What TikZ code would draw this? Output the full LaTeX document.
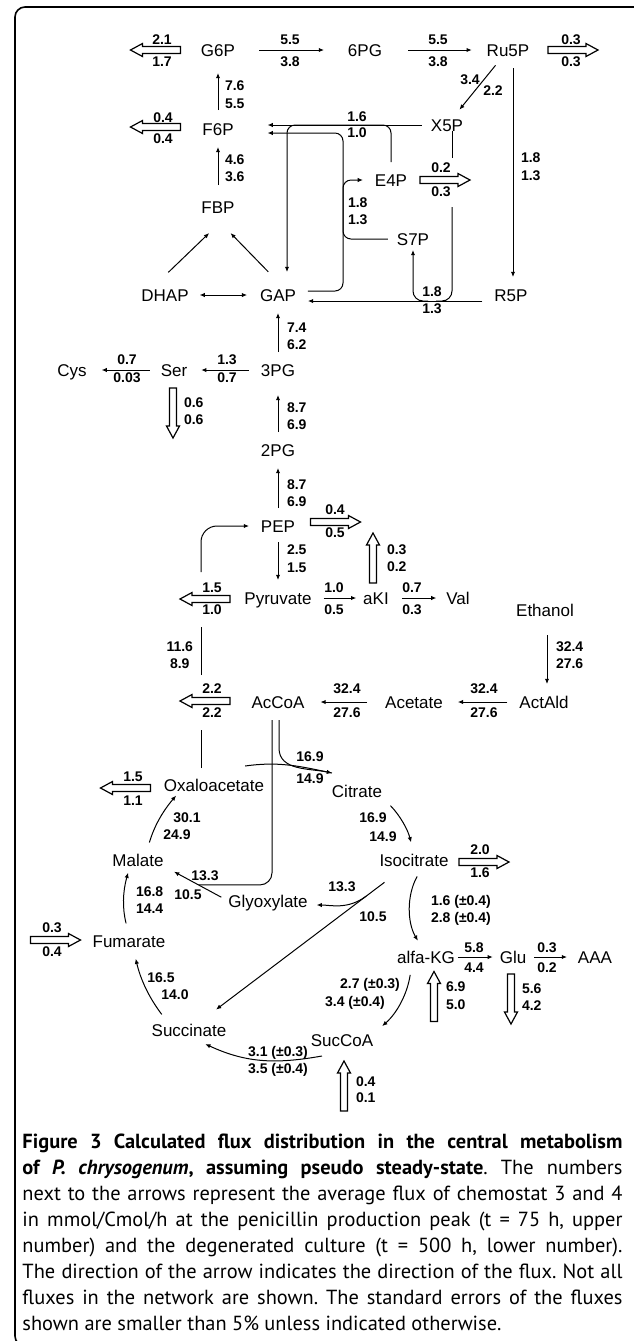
\documentclass[tikz,border=0pt]{standalone}
\usepackage{fontspec}
\setmainfont{Liberation Sans}
\newfontfamily\capfont{PT Sans}
\usetikzlibrary{arrows.meta}
\tikzstyle{met}=[inner sep=0, outer sep=0, text height=6pt, text depth=0pt, font=\fontsize{8.5pt}{10pt}\selectfont]
\tikzstyle{num}=[inner sep=0, outer sep=0, align=center, font=\bfseries\fontsize{7pt}{11pt}\selectfont]
\tikzstyle{flux}=[-{Latex[length=2.6pt,width=2.2pt]}, shorten <=6pt, shorten >=6pt]
\tikzstyle{bothflux}=[{Latex[length=2.6pt,width=2.2pt]}-{Latex[length=2.6pt,width=2.2pt]}, shorten <=6pt, shorten >=6pt]
\tikzstyle{link}=[shorten <=6pt]
\tikzset{
  vgap/.style={font=\bfseries\fontsize{7pt}{#1}\selectfont},
  numr/.style={num, anchor=west, align=left, vgap=#1},
  outflow/.pic={\draw[fill=white, line width=0.6pt] (-25,-3.5) -- (13,-3.5) -- (13,-6.5) -- (25,0) -- (13,6.5) -- (13,3.5) -- (-25,3.5) -- cycle;}
}

\begin{document}
\begin{tikzpicture}[x=0.5pt, y=-0.5pt, line width=0.5pt]
    \useasboundingbox (0,0) rectangle (633,1341);
    \draw[line width=0.8pt, rounded corners=5pt] (15,7) rectangle (650,1346);

    % metabolites
    \node[met] (G6P) at (218,50) {G6P};
    \node[met] (pg6) at (365,50) {6PG};
    \node[met] (Ru5P) at (508,50) {Ru5P};
    \node[met] (F6P) at (218,129) {F6P};
    \node[met] (X5P) at (447,125) {X5P};
    \node[met] (E4P) at (391,180) {E4P};
    \node[met] (FBP) at (218,207) {FBP};
    \node[met] (S7P) at (413,239) {S7P};
    \node[met] (DHAP) at (165,295) {DHAP};
    \node[met] (GAP) at (278,295) {GAP};
    \node[met] (R5P) at (511,295) {R5P};
    \node[met] (pg3) at (278,370) {3PG};
    \node[met] (Ser) at (174,370) {Ser};
    \node[met] (Cys) at (72,370) {Cys};
    \node[met] (pg2) at (278,450) {2PG};
    \node[met] (PEP) at (278,526) {PEP};
    \node[met] (Pyruvate) at (278,598) {Pyruvate};
    \node[met] (aKI) at (376,598) {aKI};
    \node[met] (Val) at (458,598) {Val};
    \node[met] (Ethanol) at (545,610) {Ethanol};
    \node[met] (AcCoA) at (278,702) {AcCoA};
    \node[met] (Acetate) at (414,702) {Acetate};
    \node[met] (ActAld) at (544,702) {ActAld};
    \node[met] (Oxaloacetate) at (214,785) {Oxaloacetate};
    \node[met] (Citrate) at (357,791) {Citrate};
    \node[met] (Malate) at (138,860) {Malate};
    \node[met] (Isocitrate) at (414,860) {Isocitrate};
    \node[met] (Glyoxylate) at (268,901) {Glyoxylate};
    \node[met] (Fumarate) at (129,941) {Fumarate};
    \node[met] (alfaKG) at (426,957) {alfa-KG};
    \node[met] (Glu) at (513,957) {Glu};
    \node[met] (AAA) at (595,957) {AAA};
    \node[met] (Succinate) at (189,1030) {Succinate};
    \node[met] (SucCoA) at (342,1040) {SucCoA};

    % exchange arrows
    \pic[rotate=180] (outG6P) at (155.5,50) {outflow};
    \pic[rotate=180] (outF6P) at (155.5,127) {outflow};
    \pic (outRu5P) at (573,50) {outflow};
    \pic (outE4P) at (445,180) {outflow};
    \pic[rotate=-90] (outSer) at (173,413) {outflow};
    \pic (outPEP) at (335.5,522) {outflow};
    \pic[rotate=90] (outaKI) at (373,558) {outflow};
    \pic[rotate=180] (outPyr) at (205,599) {outflow};
    \pic[rotate=180] (outAcCoA) at (205,701) {outflow};
    \pic[rotate=180] (outOAA) at (125.5,788) {outflow};
    \pic (outIcit) at (484,862) {outflow};
    \pic (inFum) at (55.5,940) {outflow};
    \pic[rotate=90] (inaKG) at (434,996.5) {outflow};
    \pic[rotate=-90] (outGlu) at (511,999) {outflow};
    \pic[rotate=90] (inSucCoA) at (344,1086) {outflow};

    % helper points
    \coordinate (tkA) at (287,125);
    \coordinate (tkB) at (343,133);
    \coordinate (tkC) at (343,180);
    \coordinate (x5pA) at (452,158);
    \coordinate (x5pB) at (452,207);
    \coordinate (r5pjoin) at (436,301);
    \coordinate (s7pjoin) at (428,301);
    \coordinate (pepA) at (201,730);
    \coordinate (pepB) at (201,675);
    \coordinate (pepC) at (201,627);
    \coordinate (pepD) at (201,572);

    % pentose phosphate part
    \draw[flux, shorten <=12pt, shorten >=12pt] (G6P) -- (pg6);
    \draw[flux, shorten <=13pt, shorten >=7.5pt] (pg6) -- (Ru5P);
    \draw[flux] (Ru5P) -- (X5P);
    \draw[flux] ([xshift=2.5pt]Ru5P.south) -- ([xshift=1pt]R5P.north);
    \draw[flux, shorten <=6.5pt, shorten >=8.5pt] (F6P) -- (G6P);
    \draw[flux, shorten <=8pt] (FBP) -- (F6P);
    \draw[flux, shorten <=4.5pt, shorten >=17pt] (X5P.west) -- (X5P.west -| F6P.east);
    \draw[flux, rounded corners=4pt, shorten >=8.5pt] (E4P.north) |- (tkA) -- (tkA |- GAP.north);
    \draw[flux, rounded corners=4pt, shorten >=17pt] ([yshift=2pt]GAP.east) -| (tkB) -- (tkB -| F6P.east);
    \draw[flux, rounded corners=4pt, shorten <=4.5pt] (S7P.west) -| (tkC) -- (E4P.west);
    \draw ([xshift=2.5pt]X5P.south) -- (x5pA);
    \draw[rounded corners=5pt] (x5pB) |- (r5pjoin);
    \draw[flux, rounded corners=5pt, shorten <=0pt, shorten >=2.5pt] (s7pjoin) -| (S7P.south);
    \draw[flux] ([yshift=-3pt]R5P.west) -- ([yshift=-3pt]GAP.east);

    % glycolysis
    \draw[flux, shorten <=12pt, shorten >=14.5pt] ([xshift=-7pt]DHAP.north) -- ([xshift=6pt]FBP.south);
    \draw[flux, shorten <=12pt, shorten >=14pt] ([xshift=3.5pt]GAP.north) -- ([xshift=-3.5pt]FBP.south);
    \draw[bothflux, shorten <=5.5pt, shorten >=6.5pt] (DHAP) -- (GAP);
    \draw[flux] (pg3) -- (GAP);
    \draw[flux, shorten >=7pt] (pg3) -- (Ser);
    \draw[flux, shorten <=5.5pt, shorten >=7.5pt] (Ser) -- (Cys);
    \draw[flux, shorten >=9.5pt] (pg2) -- (pg3);
    \draw[flux] (PEP) -- (pg2);
    \draw[flux, shorten <=5pt] (PEP) -- (Pyruvate);
    \draw[flux, shorten >=3.5pt] (Pyruvate) -- (aKI);
    \draw[flux, shorten <=6.5pt, shorten >=5pt] (aKI) -- (Val);
    \draw[link, shorten <=5.5pt] ([xshift=-6.5pt]Oxaloacetate.north) -- (pepA);
    \draw (pepB) -- (pepC);
    \draw[flux, rounded corners=8pt, shorten <=0pt] (pepD) |- (PEP.west);

    % acetyl-CoA and TCA cycle
    \draw[flux, shorten <=9.5pt] ([xshift=1pt]Ethanol.south) -- ([xshift=1.5pt]ActAld.north);
    \draw[flux, shorten >=7.5pt] (ActAld) -- (Acetate);
    \draw[flux, shorten <=9pt, shorten >=8pt] (Acetate) -- (AcCoA);
    \draw[flux, shorten >=0pt] ([xshift=0.5pt]AcCoA.south) -- ++(0,40) to[out=-90, in=168] ([yshift=6pt]Citrate.north west);
    \draw ([shift={(-9.5pt,6.5pt)}]Oxaloacetate.north east) to[out=8, in=168] ([yshift=6pt]Citrate.north west);
    \draw[flux, bend left=15] (Citrate.south east) to (Isocitrate.north);
    \draw[flux, shorten <=13.5pt, shorten >=12pt] (Isocitrate) -- coordinate[pos=0.19] (icitbr) (Succinate);
    \draw[flux, shorten <=0pt, shorten >=4.5pt] (icitbr) to[out=217, in=0] ([yshift=-2pt]Glyoxylate.east);
    \draw[flux, shorten <=4pt] (Glyoxylate.west) -- coordinate[pos=0.46] (glxjoin) (Malate.south east);
    \draw[link, rounded corners=6pt] ([xshift=-3pt]AcCoA.south) |- (glxjoin);
    \draw[flux, bend left=12, shorten >=3pt] ([xshift=4pt]Malate.north) to ([xshift=-17pt]Oxaloacetate.south);
    \draw[flux, bend left=15, shorten >=3.5pt] (Fumarate.north) to ([xshift=-4pt]Malate.south);
    \draw[flux, bend left=12] ([xshift=-10pt]Succinate.north) to ([xshift=2pt]Fumarate.south);
    \draw[flux, bend right=30] ([xshift=4.5pt]Isocitrate.south) to ([xshift=-1pt]alfaKG.north);
    \draw[flux, shorten <=1.5pt, shorten >=3.5pt] (alfaKG) -- (Glu);
    \draw[flux, shorten <=4pt, shorten >=5.5pt] (Glu) -- (AAA);
    \draw[flux, bend left=20] ([xshift=-7pt]alfaKG.south) to (SucCoA.north east);
    \draw[flux, shorten <=0pt, shorten >=0pt] ([shift={(-10pt,-5pt)}]SucCoA.south) to[out=190, in=-25] ([shift={(-10.5pt,-4pt)}]Succinate.south east);

    % flux values
    \node[num] (lG6Pout) at (162,51) {2.1\\1.7};
    \node[num] (lG6P6PG) at (290,51) {5.5\\3.8};
    \node[num] (l6PGRu5P) at (438,51) {5.5\\3.8};
    \node[num] (lRu5Pout) at (571,51) {0.3\\0.3};
    \node[num, vgap=10.5pt] (lF6Pout) at (163,128) {0.4\\0.4};
    \node[num, vgap=8pt] (lX5PF6P) at (357,125) {1.6\\1.0};
    \node[num, vgap=12pt] (lE4Pout) at (441,180) {0.2\\0.3};
    \node[num, vgap=8.5pt] (lR5PGAP) at (432,300.5) {1.8\\1.3};
    \node[num, vgap=9pt] (l3PGSer) at (227,369) {1.3\\0.7};
    \node[num, vgap=9pt] (lSerCys) at (127,369) {0.7\\0.03};
    \node[num, vgap=11.5pt] (lPEPout) at (335,521.5) {0.4\\0.5};
    \node[num] (lPyrout) at (212,599) {1.5\\1.0};
    \node[num] (lPyraKI) at (334,599) {1.0\\0.5};
    \node[num] (laKIVal) at (412,599) {0.7\\0.3};
    \node[num, vgap=12pt] (lAcCoAout) at (212,701) {2.2\\2.2};
    \node[num, vgap=12pt] (lAceAcCoA) at (347,701) {32.4\\27.6};
    \node[num, vgap=12pt] (lActAce) at (484,701) {32.4\\27.6};
    \node[num] (lCit) at (310,768) {16.9\\14.9};
    \node[num, vgap=12pt] (lOAAout) at (133,789) {1.5\\1.1};
    \node[num, vgap=11.5pt] (lIcitout) at (480,861.5) {2.0\\1.6};
    \node[num, vgap=12pt] (lFumin) at (52,940) {0.3\\0.4};
    \node[num, vgap=10pt] (laKGGlu) at (474,958) {5.8\\4.4};
    \node[num, vgap=10pt] (lGluAAA) at (547,958) {0.3\\0.2};
    \node[num, vgap=8.5pt] (lSucSuc) at (278,1061.5) {3.1 (±0.3)\\3.5 (±0.4)};

    \node[numr=9pt] (lF6PG6P) at (225,95) {7.6\\5.5};
    \node[numr=8.5pt] (lFBPF6P) at (225,168.5) {4.6\\3.6};
    \node[numr=9pt] (lRu5PR5P) at (521,167) {1.8\\1.3};
    \node[numr=8.5pt] (lS7PE4P) at (348,211.5) {1.8\\1.3};
    \node[numr=8.5pt] (l3PGGAP) at (287,336.5) {7.4\\6.2};
    \node[numr=8.5pt] (l2PG3PG) at (287,416.5) {8.7\\6.9};
    \node[numr=8.5pt] (lPEP2PG) at (287,493.5) {8.7\\6.9};
    \node[numr=8.5pt] (lSerout) at (184,411.5) {0.6\\0.6};
    \node[numr=9pt] (lPEPPyr) at (287,559) {2.5\\1.5};
    \node[numr=8.5pt] (laKIout) at (387,558.5) {0.3\\0.2};
    \node[numr=8.5pt] (lEthAct) at (556,655.5) {32.4\\27.6};
    \node[numr=8.5pt] (lIcitaKG) at (431,910.5) {1.6 (±0.4)\\2.8 (±0.4)};
    \node[numr=9pt] (laKGin) at (446,996) {6.9\\5.0};
    \node[numr=8.5pt] (lGluout) at (522,997.5) {5.6\\4.2};
    \node[numr=8pt] (lSucCoAin) at (356,1090) {0.4\\0.1};
    \node[numr=8.5pt] (lFumMal) at (136,900.5) {16.8\\14.4};
    \node[num, vgap=8.5pt, anchor=east] (lOAAPEP) at (193,655.5) {11.6\\8.9};

    \node[num] (lRuX1) at (470,80) {3.4};
    \node[num] (lRuX2) at (493,91) {2.2};
    \node[num] (lMalOAA1) at (187,818) {30.1};
    \node[num] (lMalOAA2) at (177,835) {24.9};
    \node[num] (lGlxMal1) at (205,876) {13.3};
    \node[num] (lGlxMal2) at (188,895) {10.5};
    \node[num] (lIcitGlx) at (342,887) {13.3};
    \node[num] (lIcitSuc) at (373,917) {10.5};
    \node[num] (lCitIcit1) at (373,818) {16.9};
    \node[num] (lCitIcit2) at (383,837) {14.9};
    \node[num] (lSucFum1) at (161,978) {16.5};
    \node[num] (lSucFum2) at (175,995) {14.0};
    \node[num] (laKGSuc1) at (370,985) {2.7 (±0.3)};
    \node[num] (laKGSuc2) at (355,1003) {3.4 (±0.4)};

    % caption
    \node[anchor=north west, inner sep=0, align=left, font=\capfont\fontsize{10.2pt}{13pt}\selectfont\frenchspacing] (caption) at (22,1133) {%
      \makebox[300pt][s]{\bfseries Figure 3 Calculated flux distribution in the central metabolism}\\
      \makebox[300pt][s]{{\bfseries of \textit{P. chrysogenum}, assuming pseudo steady-state}. The numbers}\\
      \makebox[300pt][s]{next to the arrows represent the average flux of chemostat 3 and 4}\\
      \makebox[300pt][s]{in mmol/Cmol/h at the penicillin production peak (t = 75 h, upper}\\
      \makebox[300pt][s]{number) and the degenerated culture (t = 500 h, lower number).}\\
      \makebox[300pt][s]{The direction of the arrow indicates the direction of the flux. Not all}\\
      \makebox[300pt][s]{fluxes in the network are shown. The standard errors of the fluxes}\\
      shown are smaller than 5\% unless indicated otherwise.};
\end{tikzpicture}
\end{document}
